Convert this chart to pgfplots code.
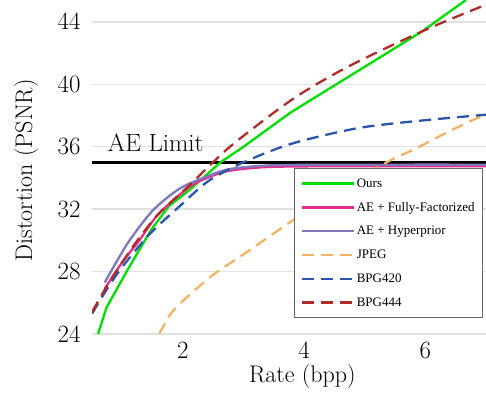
\documentclass[border=0pt]{standalone}
\usepackage{fontspec}
\usepackage{pgfplots}
\pgfplotsset{compat=1.18}
\newfontfamily\legendfont{Liberation Serif}
\definecolor{cours}{HTML}{00DD00}
\definecolor{cff}{HTML}{E52D8C}
\definecolor{chyp}{HTML}{7E78BC}
\definecolor{cjpeg}{HTML}{F4B266}
\definecolor{cbpgb}{HTML}{2B55AA}
\definecolor{cbpgr}{HTML}{B22B2B}
\begin{document}
\begin{tikzpicture}
\begin{axis}[
  name=ax,
  scale only axis,
  width=394pt, height=334pt,
  xmin=0.5, xmax=7, ymin=24, ymax=45.4,
  xtick={2,4,6}, ytick={24,28,...,44},
  axis line style={draw=none},
  major tick length=0pt,
  ymajorgrids,
  grid style={draw=black!12, line width=1.5pt},
  tick label style={font=\fontsize{25}{30}\selectfont},
  yticklabel style={xshift=-8pt},
  xticklabel style={yshift=-5pt},
  label style={font=\fontsize{24}{29}\selectfont},
  xlabel={Rate (bpp)},
  ylabel={Distortion (PSNR)},
  xlabel style={at={(axis description cs:0.534,0)}, anchor=base, yshift=-48pt},
  ylabel style={at={(axis description cs:-0.152,0.49)}, anchor=base},
  legend style={at={(0.513,0.497)}, anchor=north west, draw=black!60,
    line width=0.8pt, fill=white,
    font=\legendfont\fontsize{13}{15}\selectfont,
    row sep=9.6pt, inner xsep=6pt, inner ysep=8pt},
  legend cell align=left,
  legend image code/.code={\draw[#1] (0pt,0pt) -- (47pt,0pt); \path (0pt,0pt) -- (52pt,0pt);},
  every axis plot/.append style={line width=2.3pt},
]
\addplot[black, line width=2.6pt, forget plot] coordinates {(0.5,35) (7,35)};

\addplot[cours] coordinates {
  (0.6,24) (0.74,25.7) (1.1,28.2) (1.48,30.7) (1.77,32.2) (2.1,33.2)
  (2.62,35.0) (3.0,36.0) (3.78,38.2) (5.95,43.4) (6.67,45.4)};
\addlegendentry{Ours}

\addplot[cff, smooth] coordinates {
  (0.71,26.9) (1.0,28.6) (1.28,30.0) (1.6,31.7) (2.1,33.4) (2.4,34.0)
  (2.75,34.45) (3.3,34.68) (4.0,34.74) (5.5,34.75) (7,34.75)};
\addlegendentry{AE + Fully-Factorized}

\addplot[chyp, smooth] coordinates {
  (0.71,27.3) (0.9,28.6) (1.12,30.0) (1.5,31.9) (1.94,33.3) (2.4,34.1)
  (2.75,34.55) (3.3,34.78) (4.0,34.84) (5.5,34.85) (7,34.85)};
\addlegendentry{AE + Hyperprior}

\addplot[cjpeg, smooth, dash pattern=on 12pt off 7pt] coordinates {
  (1.61,24.0) (1.8,25.3) (2.05,26.3) (2.5,27.8) (2.96,29.0) (3.78,31.2)
  (4.5,33.1) (5.36,35.0) (5.85,35.9) (6.4,37.0) (7,38.1)};
\addlegendentry{JPEG}

\addplot[cbpgb, smooth, dash pattern=on 12pt off 7pt] coordinates {
  (0.5,25.3) (0.75,26.9) (1.0,28.3) (1.45,30.4) (1.95,32.2) (2.42,33.8)
  (3.0,35.0) (3.8,36.2) (4.9,37.2) (6.0,37.7) (7,38.05)};
\addlegendentry{BPG420}

\addplot[cbpgr, smooth, dash pattern=on 12pt off 7pt] coordinates {
  (0.5,25.4) (0.75,27.1) (1.0,28.6) (1.25,30.0) (1.6,31.7) (2.1,33.5)
  (2.47,34.9) (2.87,36.3) (3.83,39.1) (4.76,41.2) (6.01,43.5) (7,45.1)};
\addlegendentry{BPG444}

\node[anchor=base west, inner sep=0pt, font=\fontsize{25}{30}\selectfont]
  at (axis cs:0.76,35.69) {AE Limit};
\end{axis}
\pgfresetboundingbox
\path[use as bounding box] ([xshift=-92pt,yshift=-70pt]ax.south west) rectangle (ax.north east);
\end{tikzpicture}
\end{document}
